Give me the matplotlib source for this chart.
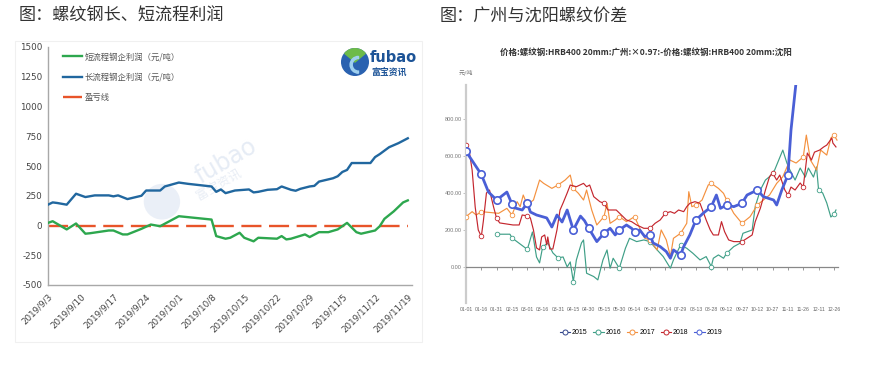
import matplotlib
matplotlib.use('Agg')
import matplotlib.pyplot as plt
import pandas as pd
from matplotlib.lines import Line2D
from matplotlib.patches import Circle, Rectangle, Wedge, Ellipse

plt.rcParams['font.family'] = ['Noto Sans CJK SC', 'DejaVu Sans']
plt.rcParams['axes.unicode_minus'] = False

# ---------------- Left chart data ----------------
long_dates = ['09-03', '09-04', '09-05', '09-07', '09-09', '09-11', '09-13', '09-16', '09-17', '09-18',
              '09-20', '09-23', '09-24', '09-27', '09-28', '10-01', '10-03', '10-08', '10-09', '10-10',
              '10-11', '10-13', '10-16', '10-17', '10-18', '10-20', '10-22', '10-23', '10-25', '10-26',
              '10-27', '10-29', '10-30', '10-31', '11-03', '11-04', '11-05', '11-06', '11-07', '11-11',
              '11-12', '11-13', '11-15', '11-17', '11-19']
long_vals = [175, 194, 189, 175, 267, 239, 253, 253, 245, 253,
             222, 250, 294, 294, 328, 361, 350, 328, 283, 303,
             272, 294, 303, 278, 283, 300, 305, 328, 300, 292,
             308, 328, 333, 369, 397, 414, 450, 467, 525, 525,
             575, 600, 658, 692, 733]
short_dates = ['09-03', '09-04', '09-07', '09-08', '09-09', '09-11', '09-12', '09-16', '09-17', '09-19',
               '09-20', '09-23', '09-25', '09-27', '10-01', '10-08', '10-09', '10-11', '10-12', '10-14',
               '10-15', '10-17', '10-18', '10-22', '10-23', '10-24', '10-25', '10-28', '10-29', '10-31',
               '11-02', '11-04', '11-06', '11-08', '11-09', '11-12', '11-13', '11-14', '11-16', '11-18',
               '11-19']
short_vals = [22, 36, -33, -8, 17, -69, -65, -42, -42, -75,
              -75, -28, 8, -6, 78, 50, -89, -111, -103, -61,
              -103, -133, -103, -111, -89, -117, -111, -75, -97, -56,
              -56, -33, 22, -56, -69, -42, -6, 56, 119, 194,
              211]
left_tick_dates = ['09-03', '09-10', '09-17', '09-24', '10-01', '10-08', '10-15', '10-22', '10-29',
                   '11-05', '11-12', '11-19']
left_tick_labels = ['2019/9/3', '2019/9/10', '2019/9/17', '2019/9/24', '2019/10/1', '2019/10/8',
                    '2019/10/15', '2019/10/22', '2019/10/29', '2019/11/5', '2019/11/12', '2019/11/19']
left_yticks = [-500, -250, 0, 250, 500, 750, 1000, 1250, 1500]
left_labels = ['短流程钢企利润（元/吨）', '长流程钢企利润（元/吨）', '盈亏线']

# ---------------- Right chart data (day of year) ----------------
right_xticks = list(range(0, 361, 15))
right_xlabels = ['01-01', '01-16', '01-31', '02-15', '03-01', '03-16', '03-31', '04-15', '04-30',
                 '05-15', '05-30', '06-14', '06-29', '07-14', '07-29', '08-13', '08-28', '09-12',
                 '09-27', '10-12', '10-27', '11-11', '11-26', '12-11', '12-26']
right_yticks = [0, 200, 400, 600, 800]
right_ylabels = ['0.00', '200.00', '400.00', '600.00', '800.00']
years = ['2015', '2016', '2017', '2018', '2019']

d2016 = [30, 43, 45, 60, 65, 69, 72, 75, 80, 85, 90, 95, 99, 102, 105, 108, 113, 115, 118, 125,
         129, 134, 138, 141, 144, 147, 150, 156, 160, 167, 174, 180, 187, 193, 200, 203, 210, 216,
         222, 229, 235, 240, 242, 247, 252, 255, 262, 268, 271, 280, 283, 288, 293, 297, 302, 310,
         314, 317, 322, 327, 332, 335, 340, 343, 345, 349, 353, 357, 360, 362]
v2016 = [177, 177, 157, 95, 189, 54, 22, 108, 130, 76, 49, 54, 0, 27, -79, 38, 130, 146, -34, -52,
         -70, 38, 92, -7, 47, 20, -7, 101, 155, 137, 146, 137, 92, 56, -7, 38, 119, 101,
         74, 38, 56, 2, 47, 65, 47, 74, 110, 128, 182, 200, 326, 416, 470, 488, 524, 632,
         562, 524, 470, 535, 486, 535, 486, 541, 416, 400, 346, 270, 285, 308]

d2017 = [0, 6, 10, 15, 32, 40, 45, 50, 53, 56, 60, 66, 72, 76, 84, 90, 97, 102, 105, 110,
         115, 118, 123, 128, 135, 138, 141, 146, 150, 157, 165, 170, 175, 180, 187, 191, 196, 200,
         203, 210, 216, 218, 221, 225, 231, 237, 240, 247, 252, 255, 262, 266, 270, 278, 285, 291,
         297, 304, 310, 317, 323, 330, 333, 337, 343, 347, 353, 357, 360, 363]
v2017 = [272, 299, 281, 299, 290, 317, 281, 353, 326, 389, 335, 362, 470, 452, 425, 443, 470, 497, 425, 398,
         362, 416, 308, 227, 272, 344, 236, 254, 272, 245, 272, 209, 155, 146, 92, 200, 146, 56,
         155, 182, 236, 407, 326, 335, 362, 443, 452, 425, 398, 362, 290, 263, 236, 272, 335, 362,
         389, 452, 488, 578, 562, 595, 713, 578, 524, 632, 605, 697, 713, 686]

d2018 = [0, 3, 6, 9, 12, 15, 17, 20, 23, 27, 30, 33, 46, 52, 55, 60, 63, 66, 69, 72,
         74, 77, 79, 80, 82, 85, 89, 92, 95, 99, 102, 108, 115, 118, 121, 125, 131, 135, 139, 147,
         152, 157, 162, 167, 174, 180, 185, 190, 195, 200, 204, 208, 213, 216, 219, 224, 229, 232,
         235, 239, 242, 247, 250, 253, 257, 262, 270, 275, 280, 283, 288, 293, 297, 300, 304, 307,
         312, 315, 318, 322, 327, 330, 334, 338, 341, 346, 350, 353, 358, 359, 362]
v2018 = [659, 632, 524, 324, 200, 165, 249, 400, 416, 324, 262, 238, 227, 227, 281, 276, 265, 200, 103, 92,
         162, 173, 119, 162, 97, 97, 200, 308, 346, 400, 443, 434, 452, 434, 443, 380, 353, 344, 308, 308,
         281, 254, 245, 227, 209, 209, 236, 254, 290, 299, 290, 308, 299, 326, 344, 353, 344, 299,
         254, 200, 173, 173, 245, 191, 146, 137, 137, 155, 173, 245, 317, 416, 488, 508, 470, 497,
         416, 389, 432, 416, 454, 432, 616, 578, 621, 632, 649, 659, 697, 670, 649]

d2019 = [0, 15, 22, 30, 40, 45, 48, 55, 60, 63, 69, 79, 84, 89, 94, 99, 105, 112, 116, 120,
         128, 135, 141, 146, 150, 157, 162, 165, 170, 175, 180, 183, 190, 196, 200, 203, 210, 213,
         219, 225, 232, 240, 245, 249, 255, 262, 270, 275, 285, 291, 301, 304, 309, 315, 318, 323]
v2019 = [625, 500, 405, 362, 405, 340, 319, 308, 345, 297, 281, 265, 216, 281, 243, 308, 200, 275, 250, 210,
         137, 182, 209, 173, 200, 227, 209, 191, 200, 164, 175, 130, 110, 83, 47, 92, 65, 110,
         173, 254, 290, 326, 389, 317, 335, 326, 344, 389, 416, 380, 362, 335, 416, 497, 740, 1000]

W, H = 885, 367
fig = plt.figure(figsize=(W / 100, H / 100), dpi=100)


def fx(px):
    return px / W


def fy(py):
    return 1 - py / H


# page titles
fig.text(fx(19), fy(16), '图：螺纹钢长、短流程利润', fontsize=12.3, color='#333333', ha='left', va='center')
fig.text(fx(440), fy(16), '图：广州与沈阳螺纹价差', fontsize=12.3, color='#333333', ha='left', va='center')

# left chart frame
fig.add_artist(Rectangle((fx(15), fy(342)), fx(422) - fx(15), fy(41) - fy(342), transform=fig.transFigure,
                         fill=False, ec='#f0f0f0', lw=0.8))

# ---------------- Left chart ----------------
ax1 = fig.add_axes([fx(48), fy(285), fx(412) - fx(48), fy(47) - fy(285)])
ld = pd.to_datetime(['2019-' + d for d in long_dates])
sd = pd.to_datetime(['2019-' + d for d in short_dates])
td = pd.to_datetime(['2019-' + d for d in left_tick_dates])

# watermark
ax1.add_artist(Ellipse((0.313, 0.35), 0.1, 0.15, transform=ax1.transAxes, color='#dde5f2', alpha=0.6,
                       zorder=0, ec='none'))
ax1.text(0.49, 0.52, 'fubao', transform=ax1.transAxes, rotation=30, fontsize=17, color='#e6ecf5',
         ha='center', va='center', zorder=0, family=['DejaVu Sans'])
ax1.text(0.47, 0.42, '富宝资讯', transform=ax1.transAxes, rotation=30, fontsize=9, color='#e8edf5',
         ha='center', va='center', zorder=0)

ax1.plot(sd, short_vals, color='#2da74e', lw=1.7, zorder=3, label=left_labels[0])
ax1.plot(ld, long_vals, color='#21679f', lw=1.7, zorder=3, label=left_labels[1])
ax1.plot(ld, [0] * len(ld), color='#e8542a', lw=1.7, dashes=(8.5, 3.2), zorder=2, label=left_labels[2])

ax1.set_xlim(ld[0], ld[0] + pd.Timedelta(days=77.9))
ax1.set_ylim(-500, 1500)
ax1.set_yticks(left_yticks)
ax1.set_yticklabels([str(v) for v in left_yticks], fontsize=6.3, color='#444444', family=['DejaVu Sans'])
ax1.set_xticks(td)
ax1.set_xticklabels(left_tick_labels, rotation=45, ha='right', va='top', fontsize=6.3, color='#444444',
                    rotation_mode='anchor', family=['DejaVu Sans'])
ax1.tick_params(axis='both', length=0, pad=4)
ax1.tick_params(axis='x', pad=5)
for s in ['top', 'right']:
    ax1.spines[s].set_visible(False)
for s in ['left', 'bottom']:
    ax1.spines[s].set_color('#a8a8a8')
    ax1.spines[s].set_linewidth(1.0)
leg1 = ax1.legend(loc='upper left', bbox_to_anchor=(0.042, 0.978), frameon=False, fontsize=6.0,
                  handlelength=2.2, labelspacing=1.35, handletextpad=0.4, borderaxespad=0, borderpad=0)
for t in leg1.get_texts():
    t.set_color('#555555')

# logo
lax = fig.add_axes([fx(341), fy(76), fx(28), fy(48) - fy(76)])
lax.set_xlim(-1, 1)
lax.set_ylim(-1, 1)
lax.set_aspect('equal')
lax.axis('off')
lax.add_artist(Circle((0, 0), 0.95, color='#2a62b0'))
lax.add_artist(Wedge((0, 0), 0.95, 40, 140, color='#6dbb4a'))
lax.add_artist(Wedge((0.25, -0.2), 0.6, 90, 270, width=0.15, color='#9fd0f0'))
fig.text(fx(370), fy(58), 'fubao', fontsize=10.5, color='#1d5497', fontweight='bold', ha='left', va='center',
         family=['DejaVu Sans'])
fig.text(fx(371), fy(72), '富宝资讯', fontsize=6.4, color='#1d5497', fontweight='bold', ha='left', va='center')

# ---------------- Right chart ----------------
ax2 = fig.add_axes([fx(466), fy(303), fx(838) - fx(466), fy(85) - fy(303)])
colors = {'2015': '#34478c', '2016': '#3f9f87', '2017': '#f4913f', '2018': '#c4262e', '2019': '#4a5fd6'}
series = {'2016': (d2016, v2016), '2017': (d2017, v2017), '2018': (d2018, v2018)}
for y, (d, v) in series.items():
    mk = [i for i, x in enumerate(d) if x % 15 == 0]
    ax2.plot(d, v, color=colors[y], lw=0.85, marker='o', markevery=mk, ms=3.3, mfc='white',
             mec=colors[y], mew=0.6, zorder=3)
mk19 = [i for i, x in enumerate(d2019) if x % 15 == 0]
ax2.plot(d2019, v2019, color=colors['2019'], lw=2.0, marker='o', markevery=mk19, ms=5.3, mfc='white',
         mec=colors['2019'], mew=1.2, zorder=4)

ax2.set_xlim(0, 364)
ax2.set_ylim(-195, 984)
ax2.set_yticks(right_yticks)
ax2.set_yticklabels(right_ylabels, fontsize=4.0, color='#777777', family=['Liberation Sans'])
ax2.tick_params(axis='y', length=2, width=0.5, color='#aaaaaa', pad=1)
ax2.set_xticks(right_xticks)
ax2.tick_params(axis='x', length=2.5, width=0.6, color='#888888', labelbottom=False, direction='out')
ax2.spines['bottom'].set_position(('data', 0))
ax2.spines['bottom'].set_color('#888888')
ax2.spines['bottom'].set_linewidth(0.9)
ax2.spines['left'].set_color('#cccccc')
ax2.spines['left'].set_linewidth(1.6)
for s in ['top', 'right']:
    ax2.spines[s].set_visible(False)
sec = ax2.secondary_xaxis(0.0)
sec.set_xticks(right_xticks)
sec.set_xticklabels(right_xlabels, fontsize=3.7, color='#666666', family=['Liberation Sans'])
sec.tick_params(length=0, pad=3)
sec.spines['bottom'].set_visible(False)

fig.text(fx(646), fy(52), '价格:螺纹钢:HRB400 20mm:广州:×0.97:-价格:螺纹钢:HRB400 20mm:沈阳', fontsize=6.1,
         fontweight='bold', color='#333333', ha='center', va='center')
fig.text(fx(466), fy(73), '元/吨', fontsize=4.3, color='#777777', ha='center', va='center')

handles = [Line2D([0], [0], color=colors[y], lw=0.8, marker='o', ms=3.6, mfc='white', mec=colors[y], mew=0.7)
           for y in years]
fig.legend(handles, years, loc='center', bbox_to_anchor=(fx(641), fy(333)), ncol=5, frameon=False,
           handlelength=1.5, handletextpad=0.3, columnspacing=0.8,
           prop={'family': ['Liberation Sans'], 'size': 5.0})

fig.savefig('out.png', dpi=100, facecolor='white')
